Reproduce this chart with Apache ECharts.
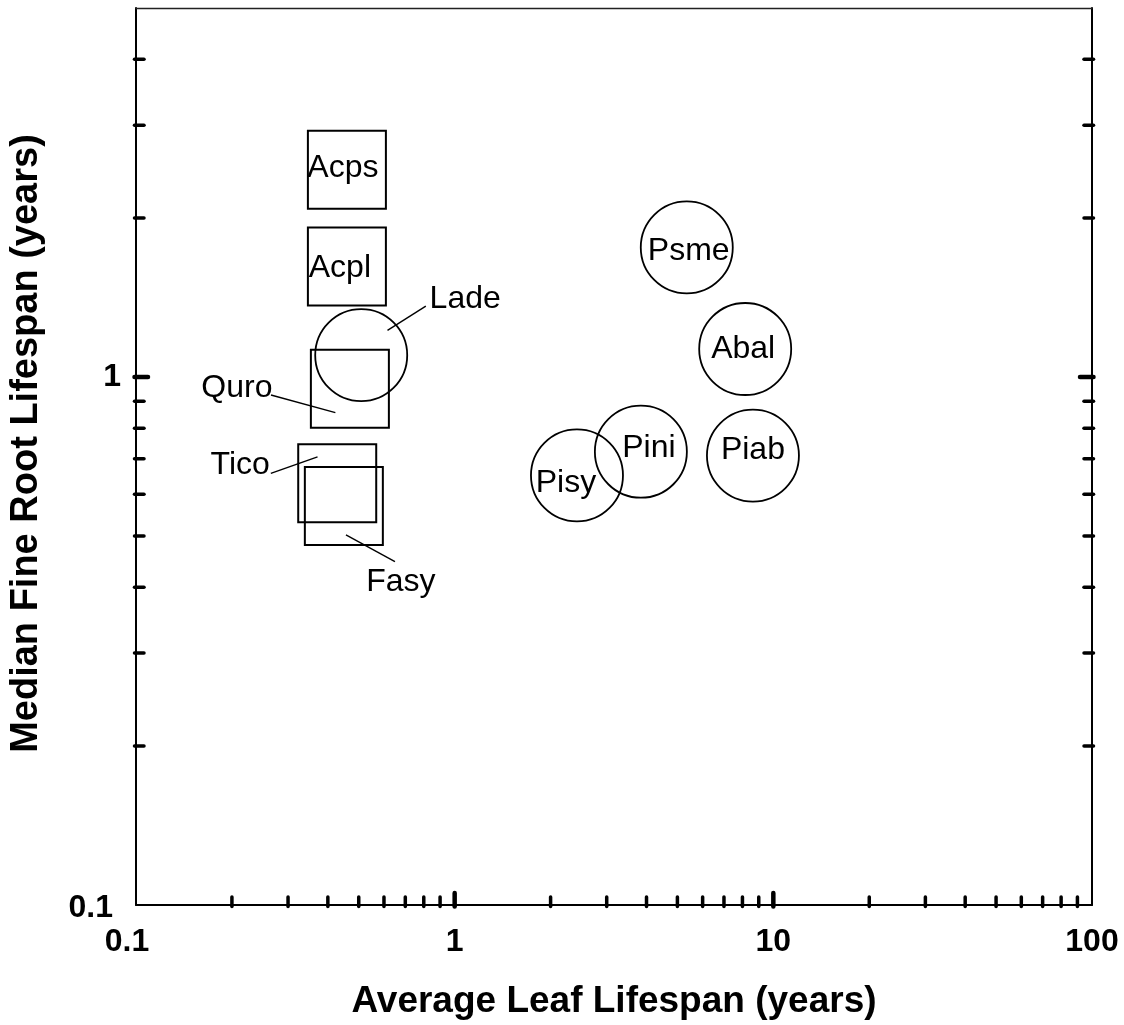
<!DOCTYPE html>
<html>
<head>
<meta charset="utf-8">
<title>Leaf vs fine root lifespan</title>
<script src="https://cdn.jsdelivr.net/npm/echarts@6/dist/echarts.min.js"></script>
<style>
  html, body { margin: 0; padding: 0; background: #fff; }
  #chart { width: 1124px; height: 1025px; }
</style>
</head>
<body>
<div id="chart"></div>
<script>
// Species codes and lifespans (years)
const deciduousSpecies = ['Acps', 'Acpl', 'Quro', 'Tico', 'Fasy'];
const deciduousLeafLife = [0.459, 0.459, 0.469, 0.428, 0.449];
const deciduousRootLife = [2.47, 1.62, 0.95, 0.629, 0.570];

const coniferSpecies = ['Lade', 'Psme', 'Abal', 'Pini', 'Piab', 'Pisy'];
const coniferLeafLife = [0.509, 5.35, 8.16, 3.84, 8.63, 2.42];
const coniferRootLife = [1.10, 1.76, 1.13, 0.722, 0.710, 0.651];

// Axis ticks
const xTickLabels = [0.1, 1, 10, 100];
const yTickLabels = [0.1, 1];
const xMajorTicks = [1, 10];
const xMinorTicks = [0.2, 0.3, 0.4, 0.5, 0.6, 0.7, 0.8, 0.9,
                     2, 3, 4, 5, 6, 7, 8, 9,
                     20, 30, 40, 50, 60, 70, 80, 90];
const yMajorTicks = [1];
const yMinorTicks = [0.2, 0.3, 0.4, 0.5, 0.6, 0.7, 0.8, 0.9, 2, 3, 4];

const X_MIN = 0.1, X_MAX = 100, Y_MIN = 0.1, Y_MAX = 5;

// Label placement (pixel offsets from the symbol centre)
const labelOffset = {
  Acps: [-4, -1.5], Acpl: [-7, 2], Quro: [-113, -1], Tico: [-97, -18], Fasy: [57, 76.5],
  Lade: [104, -56.5], Psme: [2, 4], Abal: [-2, 0], Pini: [8, -4], Piab: [0, -5], Pisy: [-11, 8]
};
// Leader lines for labels set outside their symbols (pixel offsets from symbol centre)
const leaderLine = {
  Lade: [[26.3, -24.8], [64.6, -49.1]],
  Quro: [[-78.9, 6.2], [-14.5, 23.9]],
  Tico: [[-66.4, -9.9], [-19.7, -26.5]],
  Fasy: [[2.1, 29], [51.1, 55.7]]
};

const FONT = '"Liberation Sans", Arial, Helvetica, sans-serif';
const TICK_FONT = 32;

function pointData(names, xs, ys) {
  return names.map((n, i) => ({
    name: n,
    value: [xs[i], ys[i]],
    label: { offset: labelOffset[n] || [0, 0] }
  }));
}

// Only decades carry a label; the corner label is nudged clear of the other axis
function tickLabel(list, v, cornerStyle) {
  const hit = list.find(t => Math.abs(Math.log10(t) - Math.log10(v)) < 1e-6);
  if (hit === undefined) return '';
  return hit === list[0] ? '{' + cornerStyle + '|' + hit + '}' : String(hit);
}

const leaderData = [];
deciduousSpecies.forEach((n, i) => {
  if (leaderLine[n]) leaderData.push({ name: n, value: [deciduousLeafLife[i], deciduousRootLife[i]] });
});
coniferSpecies.forEach((n, i) => {
  if (leaderLine[n]) leaderData.push({ name: n, value: [coniferLeafLife[i], coniferRootLife[i]] });
});

// Tick marks drawn through the axis scales
function tickSeries(values, side, major) {
  const data = values.map(v => side === 'bottom' ? [v, Y_MIN] : (side === 'left' ? [X_MIN, v] : [X_MAX, v]));
  return {
    type: 'custom',
    silent: true,
    clip: false,
    z: 5,
    data: data,
    renderItem: function (params, api) {
      const p = api.coord([api.value(0), api.value(1)]);
      const inLen = major ? 12 : 8;
      const outLen = 1.5;
      let shape;
      if (side === 'bottom') {
        shape = { x1: p[0], y1: p[1] + outLen, x2: p[0], y2: p[1] - inLen };
      } else if (side === 'left') {
        shape = { x1: p[0] - outLen, y1: p[1], x2: p[0] + inLen, y2: p[1] };
      } else {
        shape = { x1: p[0] + outLen, y1: p[1], x2: p[0] - inLen, y2: p[1] };
      }
      return {
        type: 'line',
        shape: shape,
        style: { stroke: '#000', lineWidth: major ? 4.5 : 3.5, lineCap: 'round' }
      };
    }
  };
}

const chart = echarts.init(document.getElementById('chart'), null, { renderer: 'canvas' });

const markLabel = { show: true, position: 'inside', formatter: '{b}', fontFamily: FONT, fontSize: 32, color: '#000', opacity: 1 };
const tickText = { fontFamily: FONT, fontSize: TICK_FONT, fontWeight: 'bold', color: '#000' };

const option = {
  backgroundColor: '#fff',
  animation: false,
  textStyle: { fontFamily: FONT },
  grid: { left: 132, right: 32, top: 8, bottom: 120, containLabel: false },
  xAxis: [
    {
      type: 'log', logBase: 10, min: X_MIN, max: X_MAX, position: 'bottom',
      name: 'Average Leaf Lifespan (years)',
      nameLocation: 'middle', nameGap: 78,
      nameTextStyle: { fontFamily: FONT, fontSize: 37, fontWeight: 'bold', color: '#000' },
      axisLine: { show: true, onZero: false, lineStyle: { color: '#000', width: 2 } },
      axisTick: { show: false },
      splitLine: { show: false },
      axisLabel: Object.assign({
        margin: 21,
        formatter: v => tickLabel(xTickLabels, v, 'corner'),
        rich: { corner: Object.assign({ padding: [0, 18, 0, 0] }, tickText) }
      }, tickText)
    },
    {
      type: 'log', logBase: 10, min: X_MIN, max: X_MAX, position: 'top',
      axisLine: { show: true, onZero: false, lineStyle: { color: '#222', width: 1.3 } },
      axisTick: { show: false }, axisLabel: { show: false }, splitLine: { show: false }
    }
  ],
  yAxis: [
    {
      type: 'log', logBase: 10, min: Y_MIN, max: Y_MAX, position: 'left',
      name: 'Median Fine Root Lifespan (years)',
      nameLocation: 'middle', nameGap: 90,
      nameTextStyle: { fontFamily: FONT, fontSize: 38, fontWeight: 'bold', color: '#000', padding: [0, 0, 0, 26] },
      axisLine: { show: true, onZero: false, lineStyle: { color: '#000', width: 2 } },
      axisTick: { show: false },
      splitLine: { show: false },
      axisLabel: Object.assign({
        margin: 15,
        formatter: v => tickLabel(yTickLabels, v, 'corner'),
        rich: { corner: Object.assign({ padding: [6, 8, 0, 0] }, tickText) }
      }, tickText)
    },
    {
      type: 'log', logBase: 10, min: Y_MIN, max: Y_MAX, position: 'right',
      axisLine: { show: true, onZero: false, lineStyle: { color: '#000', width: 2 } },
      axisTick: { show: false }, axisLabel: { show: false }, splitLine: { show: false }
    }
  ],
  series: [
    {
      name: 'Broadleaf',
      type: 'scatter',
      symbol: 'rect',
      symbolSize: 78,
      z: 3,
      itemStyle: { color: 'rgba(0,0,0,0)', borderColor: '#000', borderWidth: 2, opacity: 1 },
      label: markLabel,
      emphasis: { disabled: true },
      data: pointData(deciduousSpecies, deciduousLeafLife, deciduousRootLife)
    },
    {
      name: 'Conifer',
      type: 'scatter',
      symbol: 'circle',
      symbolSize: 92,
      z: 3,
      itemStyle: { color: 'rgba(0,0,0,0)', borderColor: '#000', borderWidth: 1.8, opacity: 1 },
      label: markLabel,
      emphasis: { disabled: true },
      data: pointData(coniferSpecies, coniferLeafLife, coniferRootLife)
    },
    {
      name: 'Leaders',
      type: 'custom',
      silent: true,
      clip: false,
      z: 4,
      data: leaderData,
      renderItem: function (params, api) {
        const p = api.coord([api.value(0), api.value(1)]);
        const seg = leaderLine[leaderData[params.dataIndex].name];
        return {
          type: 'line',
          shape: { x1: p[0] + seg[0][0], y1: p[1] + seg[0][1], x2: p[0] + seg[1][0], y2: p[1] + seg[1][1] },
          style: { stroke: '#000', lineWidth: 1.4 }
        };
      }
    },
    tickSeries(xMinorTicks, 'bottom', false),
    tickSeries(xMajorTicks, 'bottom', true),
    tickSeries(yMinorTicks, 'left', false),
    tickSeries(yMajorTicks, 'left', true),
    tickSeries(yMinorTicks, 'right', false),
    tickSeries(yMajorTicks, 'right', true)
  ]
};

chart.setOption(option);
</script>
</body>
</html>
